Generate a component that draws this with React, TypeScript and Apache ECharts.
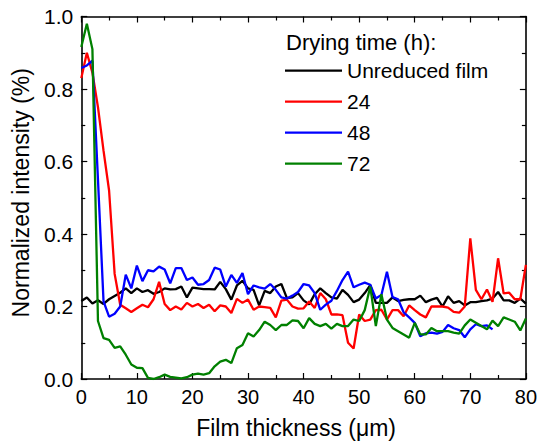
import React, { useEffect, useRef } from "react";
import * as echarts from "echarts";

// Film thickness (µm)
const thickness = [
  0, 1, 2, 3, 4, 5, 6, 7, 8, 9, 10, 11, 12, 13, 14, 15, 16, 17, 18, 19, 20,
  21, 22, 23, 24, 25, 26, 27, 28, 29, 30, 31, 32, 33, 34, 35, 36, 37, 38, 39, 40,
  41, 42, 43, 44, 45, 46, 47, 48, 49, 50, 51, 52, 53, 54, 55, 56, 57, 58, 59, 60,
  61, 62, 63, 64, 65, 66, 67, 68, 69, 70, 71, 72, 73, 74, 75, 76, 77, 78, 79, 80,
];

const seriesNames = ["Unreduced film", "24", "48", "72"];
const legendTitle = "Drying time (h):";
const xTitle = "Film thickness (\u03bcm)";
const yTitle = "Normalized intensity (%)";

const unreduced = [
  0.215, 0.225, 0.208, 0.217, 0.207, 0.22, 0.229, 0.238, 0.25, 0.237, 0.25,
  0.24, 0.245, 0.235, 0.24, 0.25, 0.247, 0.248, 0.255, 0.225, 0.252,
  0.25, 0.248, 0.248, 0.247, 0.268, 0.248, 0.219, 0.258, 0.271, 0.25,
  0.246, 0.203, 0.243, 0.237, 0.255, 0.262, 0.223, 0.225, 0.237, 0.217,
  0.206, 0.234, 0.25, 0.237, 0.225, 0.222, 0.246, 0.232, 0.212, 0.219,
  0.237, 0.259, 0.21, 0.21, 0.21, 0.225, 0.215, 0.218, 0.22, 0.22,
  0.23, 0.212, 0.219, 0.224, 0.2, 0.228, 0.21, 0.215, 0.203, 0.212,
  0.212, 0.215, 0.217, 0.222, 0.24, 0.217, 0.217, 0.21, 0.222, 0.208,
];

const h24 = [
  0.83, 0.9, 0.845, 0.75, 0.63, 0.52, 0.29, 0.205, 0.195, 0.185, 0.195,
  0.205, 0.198, 0.22, 0.268, 0.207, 0.19, 0.2, 0.192, 0.21, 0.2,
  0.207, 0.196, 0.205, 0.187, 0.203, 0.2, 0.182, 0.221, 0.21, 0.219,
  0.191, 0.2, 0.198, 0.196, 0.17, 0.216, 0.219, 0.2, 0.194, 0.195,
  0.214, 0.196, 0.237, 0.22, 0.178, 0.178, 0.176, 0.1, 0.084, 0.178,
  0.16, 0.164, 0.19, 0.191, 0.164, 0.19, 0.19, 0.173, 0.203, 0.19,
  0.178, 0.17, 0.2, 0.2, 0.2, 0.197, 0.185, 0.183, 0.2, 0.388,
  0.246, 0.22, 0.247, 0.213, 0.333, 0.236, 0.238, 0.22, 0.22, 0.315,
];

const h48 = [
  0.858, 0.865, 0.878, 0.55, 0.214, 0.172, 0.18, 0.2, 0.288, 0.25, 0.313,
  0.27, 0.3, 0.297, 0.31, 0.302, 0.264, 0.306, 0.306, 0.273, 0.28,
  0.26, 0.262, 0.273, 0.307, 0.302, 0.255, 0.287, 0.265, 0.292, 0.234,
  0.258, 0.253, 0.249, 0.262, 0.246, 0.225, 0.222, 0.23, 0.24, 0.262,
  0.258, 0.237, 0.191, 0.205, 0.216, 0.243, 0.273, 0.296, 0.253, 0.26,
  0.266, 0.26, 0.222, 0.232, 0.296, 0.226, 0.22, 0.184, 0.17, 0.155,
  0.118, 0.126, 0.128, 0.125, 0.13, 0.149, 0.14, 0.135, 0.115, 0.137,
  0.151, 0.146, 0.148, 0.137,
];

const h72 = [
  0.916, 0.98, 0.91, 0.16, 0.113, 0.108, 0.086, 0.09, 0.067, 0.04, 0.031,
  0.03, 0.003, 0.0, 0.005, 0.012, 0.006, 0.004, 0.002, 0.005, 0.012,
  0.015, 0.012, 0.016, 0.035, 0.048, 0.053, 0.044, 0.085, 0.094, 0.126,
  0.117, 0.135, 0.158, 0.149, 0.135, 0.149, 0.149, 0.162, 0.16, 0.14,
  0.168, 0.152, 0.146, 0.152, 0.139, 0.152, 0.146, 0.146, 0.164, 0.16,
  0.19, 0.255, 0.146, 0.234, 0.164, 0.141, 0.132, 0.123, 0.114, 0.155,
  0.123, 0.123, 0.141, 0.132, 0.132, 0.132, 0.128, 0.125, 0.148, 0.164,
  0.155, 0.146, 0.137, 0.161, 0.146, 0.17, 0.164, 0.158, 0.134, 0.167,
];

const seriesValues = [unreduced, h24, h48, h72];
const seriesColors = ["#000000", "#ff0000", "#0000ff", "#008000"];

const FONT = "'Liberation Sans', Arial, Helvetica, sans-serif";

export default function App() {
  const ref = useRef<HTMLDivElement>(null);

  useEffect(() => {
    document.body.style.margin = "0";
    if (!ref.current) return;
    const chart = echarts.init(ref.current, null, { renderer: "svg" });

    const axisLine = { show: true, onZero: false, lineStyle: { color: "#000", width: 1.6 } };
    const axisTick = { show: true, inside: true, length: 6, lineStyle: { color: "#000", width: 1.2 } };
    const minorTick = { show: true, splitNumber: 2, length: 4, lineStyle: { color: "#000", width: 1.2 } };

    chart.setOption({
      animation: false,
      backgroundColor: "#ffffff",
      textStyle: { fontFamily: FONT, color: "#000" },
      title: {
        text: legendTitle,
        left: 286,
        top: 31,
        padding: 0,
        textStyle: { fontFamily: FONT, fontSize: 22, fontWeight: "normal", color: "#000" },
      },
      legend: {
        orient: "vertical",
        left: 285,
        top: 58.7,
        padding: 0,
        icon: "rect",
        itemWidth: 57,
        itemHeight: 2.2,
        itemGap: 7,
        data: seriesNames,
        textStyle: { fontFamily: FONT, fontSize: 21, color: "#000", lineHeight: 24 },
      },
      grid: { left: 81.3, right: 13.5, top: 16.5, bottom: 62.5, containLabel: false },
      xAxis: [
        {
          type: "value",
          min: 0,
          max: 80,
          interval: 10,
          name: xTitle,
          nameLocation: "middle",
          nameGap: 37,
          nameTextStyle: { fontFamily: FONT, fontSize: 23, color: "#000", padding: [0, 15, 0, 0] },
          axisLine,
          axisTick,
          minorTick,
          splitLine: { show: false },
          axisLabel: { fontFamily: FONT, fontSize: 20, color: "#000", margin: 8 },
        },
        {
          type: "value",
          position: "top",
          min: 0,
          max: 80,
          interval: 10,
          axisLine,
          axisTick,
          minorTick,
          splitLine: { show: false },
          axisLabel: { show: false },
        },
      ],
      yAxis: [
        {
          type: "value",
          min: 0,
          max: 1,
          interval: 0.2,
          name: yTitle,
          nameLocation: "middle",
          nameGap: 49,
          nameTextStyle: { fontFamily: FONT, fontSize: 23, color: "#000", padding: [0, 0, 0, 10] },
          axisLine,
          axisTick,
          minorTick,
          splitLine: { show: false },
          axisLabel: {
            fontFamily: FONT,
            fontSize: 21,
            color: "#000",
            margin: 8,
            formatter: (v: number) => v.toFixed(1),
          },
        },
        {
          type: "value",
          position: "right",
          min: 0,
          max: 1,
          interval: 0.2,
          axisLine,
          axisTick,
          minorTick,
          splitLine: { show: false },
          axisLabel: { show: false },
        },
      ],
      series: seriesNames.map((name, k) => ({
        name,
        type: "line",
        xAxisIndex: 0,
        yAxisIndex: 0,
        symbol: "none",
        showSymbol: false,
        color: seriesColors[k],
        lineStyle: { color: seriesColors[k], width: 2.3 },
        data: seriesValues[k].map((v, i) => [thickness[i], v]),
      })),
    });

    return () => chart.dispose();
  }, []);

  return <div ref={ref} style={{ width: 540, height: 444 }} />;
}
